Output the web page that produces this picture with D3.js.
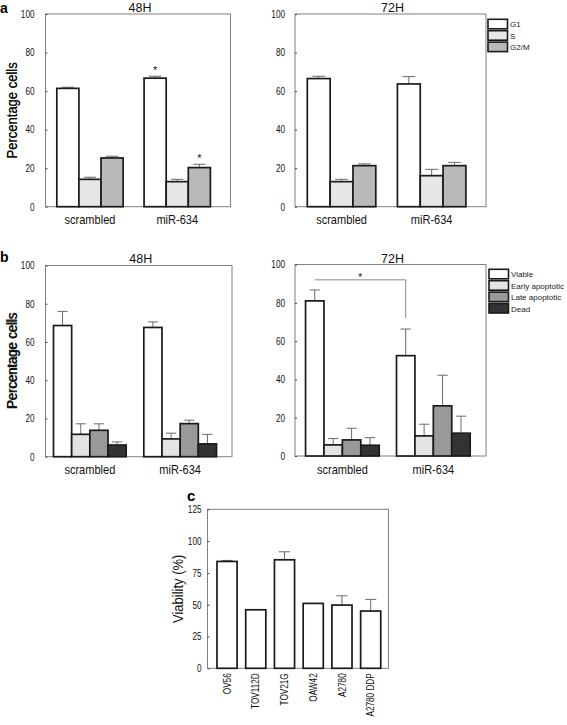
<!DOCTYPE html>
<html><head><meta charset="utf-8">
<script src="https://cdn.jsdelivr.net/npm/d3@7"></script>
<style>
html,body{margin:0;padding:0;background:#fff;}
svg{display:block;font-family:"Liberation Sans",Arial,Helvetica,sans-serif;}
</style></head>
<body>
<svg id="chart" width="567" height="725"></svg>
<script>
// ---------- DATA ----------
const groupCategories = ["scrambled", "miR-634"];
const cycleSeries = ["G1", "S", "G2/M"];
const apoSeries = ["Viable", "Early apoptotic", "Late apoptotic", "Dead"];
const percentTicks = [0, 20, 40, 60, 80, 100];

// rows = categories (scrambled, miR-634), cols = series
const cycle48Values = [[61.4, 14.2, 25.3], [66.7, 13.0, 20.3]];
const cycle48Errors = [[0.6, 1.1, 0.9], [1.0, 1.2, 1.7]];
const cycle48Stars = [[false, false, false], [true, false, true]];
const cycle72Values = [[66.5, 13.0, 21.3], [63.7, 16.1, 21.3]];
const cycle72Errors = [[1.2, 1.2, 0.9], [3.8, 3.3, 1.7]];

const apo48Values = [[68.6, 11.7, 13.8, 6.1], [67.6, 9.3, 17.3, 6.7]];
const apo48Errors = [[7.4, 5.5, 3.4, 1.6], [2.9, 3.0, 1.8, 5.0]];
const apo72Values = [[81.0, 5.8, 8.4, 5.6], [52.4, 10.5, 26.2, 11.9]];
const apo72Errors = [[5.7, 3.3, 6.1, 4.0], [13.9, 6.1, 16.0, 8.9]];
const apo72Bracket = [92, 72]; // bracket level, right drop end

const cellLines = ["OV56", "TOV112D", "TOV21G", "OAW42", "A2780", "A2780 DDP"];
const viabilityValues = [84.0, 46.0, 85.3, 51.0, 49.7, 45.0];
const viabilityErrors = [0.8, 0, 6.3, 0, 7.3, 9.2];
const viabilityTicks = [0, 25, 50, 75, 100, 125];

const cycleColors = ["#ffffff", "#e6e6e6", "#b9b9b9"];
const apoColors = ["#ffffff", "#e3e3e3", "#999999", "#333333"];

// ---------- DRAWING ----------
const svg = d3.select("#chart");
const FRAME = "#808080", BAR_STROKE = "#1a1a1a", ERR = "#6a6a6a";
const NARROW = 0.78;

function frame(g, x0, x1, y0, y1) {
  g.append("rect").attr("x", x0).attr("y", y0).attr("width", x1 - x0).attr("height", y1 - y0)
    .attr("fill", "none").attr("stroke", FRAME).attr("stroke-width", 1);
}

function yAxis(g, y, x0, ticks, pad) {
  const ax = g.append("g").attr("transform", `translate(${x0},0)`)
    .call(d3.axisLeft(y).tickValues(ticks).tickSize(-2).tickPadding(pad));
  ax.select(".domain").remove();
  ax.selectAll(".tick line").attr("stroke", "#444");
  ax.selectAll("text").attr("font-size", 10.5).attr("fill", "#111")
    .attr("x", 0).attr("transform", `translate(${-pad},0) scale(${NARROW},1)`);
}

function yLabel(g, text, x, yc, size, sx) {
  g.append("text").attr("transform", `translate(${x},${yc}) rotate(-90) scale(${sx},1)`)
    .attr("text-anchor", "middle").attr("font-size", size).attr("fill", "#111").text(text);
}

function groupedPanel(o) {
  const g = svg.append("g");
  const [x0, x1] = o.xr, [y0, y1] = o.yr;
  const y = d3.scaleLinear().domain([0, 100]).range([y1, y0]);
  const xg = d3.scaleBand().domain(groupCategories).range([x0, x1])
    .paddingInner(o.pi).paddingOuter(o.po).align(o.align);
  const xs = d3.scaleBand().domain(o.series.map((d, i) => i)).range([0, xg.bandwidth()]);
  frame(g, x0, x1, y0, y1);
  yAxis(g, y, x0, percentTicks, o.tickPad);
  yLabel(g, "Percentage cells", 16.5, (y0 + y1) / 2, 14, 0.93);
  g.append("text").attr("x", (x0 + x1) / 2 + 2).attr("y", o.titleY).attr("text-anchor", "middle")
    .attr("font-size", 12.5).attr("fill", "#111").text(o.title);
  groupCategories.forEach(c => {
    g.append("text").attr("transform", `translate(${xg(c) + xg.bandwidth() / 2},${y1 + 17.5}) scale(0.92,1)`)
      .attr("text-anchor", "middle").attr("font-size", 12).attr("fill", "#111").text(c);
  });
  groupCategories.forEach((c, ci) => {
    o.values[ci].forEach((v, si) => {
      const bx = xg(c) + xs(si), bw = xs.bandwidth(), cx = bx + bw / 2;
      const e = o.errors[ci][si];
      if (e > 0) {
        g.append("line").attr("x1", cx).attr("x2", cx).attr("y1", y(v)).attr("y2", y(v + e))
          .attr("stroke", ERR).attr("stroke-width", 1);
        g.append("line").attr("x1", cx - bw * 0.28).attr("x2", cx + bw * 0.28)
          .attr("y1", y(v + e)).attr("y2", y(v + e)).attr("stroke", ERR).attr("stroke-width", 1);
      }
      g.append("rect").attr("x", bx).attr("y", y(v)).attr("width", bw).attr("height", y(0) - y(v))
        .attr("fill", o.colors[si]).attr("stroke", BAR_STROKE).attr("stroke-width", 1.7);
      if (o.stars && o.stars[ci][si]) {
        g.append("text").attr("x", cx).attr("y", y(v + e) - 2).attr("text-anchor", "middle")
          .attr("font-size", 11).attr("fill", "#111").text("*");
      }
    });
  });
  if (o.legend) {
    o.series.forEach((s, i) => {
      const ly = o.legend.y + i * 11.4;
      g.append("rect").attr("x", o.legend.x).attr("y", ly).attr("width", 19.5).attr("height", 9.5)
        .attr("fill", o.colors[i]).attr("stroke", BAR_STROKE).attr("stroke-width", 1.6);
      g.append("text").attr("x", o.legend.x + 22).attr("y", ly + 8).attr("font-size", 8)
        .attr("fill", "#222").text(s);
    });
  }
  return {g, y, xg, xs};
}

// panel labels
svg.append("text").attr("x", 0).attr("y", 12.5).attr("font-size", 14).attr("font-weight", "bold").text("a");
svg.append("text").attr("x", 0).attr("y", 261.5).attr("font-size", 14).attr("font-weight", "bold").text("b");
svg.append("text").attr("x", 187).attr("y", 500.5).attr("font-size", 15).attr("font-weight", "bold").text("c");

groupedPanel({xr: [45.5, 230.5], yr: [14, 206.7], pi: 0.24, po: 0.18, align: 0.36, tickPad: 11,
  series: cycleSeries, colors: cycleColors, values: cycle48Values, errors: cycle48Errors,
  stars: cycle48Stars, title: "48H", titleY: 11.5});
groupedPanel({xr: [295, 486], yr: [14, 206.7], pi: 0.24, po: 0.18, align: 0.38, tickPad: 10,
  series: cycleSeries, colors: cycleColors, values: cycle72Values, errors: cycle72Errors,
  title: "72H", titleY: 11.5, legend: {x: 488, y: 19.3}});
groupedPanel({xr: [45.5, 232], yr: [265.5, 456.7], pi: 0.195, po: 0.13, align: 0.34, tickPad: 11,
  series: apoSeries, colors: apoColors, values: apo48Values, errors: apo48Errors,
  title: "48H", titleY: 262.5});
const b72 = groupedPanel({xr: [295, 486], yr: [264.5, 456], pi: 0.19, po: 0.145, align: 0.4, tickPad: 10,
  series: apoSeries, colors: apoColors, values: apo72Values, errors: apo72Errors,
  title: "72H", titleY: 262.5, legend: {x: 489, y: 269.3}});

// significance bracket on 72H apoptosis panel
{
  const {g, y, xg, xs} = b72;
  const xa = xg(groupCategories[0]) + xs(0) + xs.bandwidth() / 2;
  const xb = xg(groupCategories[1]) + xs(0) + xs.bandwidth() / 2;
  g.append("path").attr("d", `M${xa},${y(apo72Bracket[0])}H${xb}V${y(apo72Bracket[1])}`)
    .attr("fill", "none").attr("stroke", "#8a8a8a").attr("stroke-width", 1);
  g.append("text").attr("x", (xa + xb) / 2).attr("y", y(apo72Bracket[0]) + 1)
    .attr("text-anchor", "middle").attr("font-size", 10).attr("fill", "#111").text("*");
}

// panel c
{
  const g = svg.append("g");
  const x0 = 207.5, x1 = 388.5, y0 = 509.3, y1 = 668.3;
  const y = d3.scaleLinear().domain([0, 125]).range([y1, y0]);
  const x = d3.scaleBand().domain(cellLines).range([x0, x1]).paddingInner(0.3).paddingOuter(0.3).align(0.55);
  frame(g, x0, x1, y0, y1);
  yAxis(g, y, x0, viabilityTicks, 6);
  yLabel(g, "Viability (%)", 182.5, (y0 + y1) / 2, 14, 0.93);
  cellLines.forEach((c, i) => {
    const v = viabilityValues[i], e = viabilityErrors[i];
    const bx = x(c), bw = x.bandwidth(), cx = bx + bw / 2;
    if (e > 0) {
      g.append("line").attr("x1", cx).attr("x2", cx).attr("y1", y(v)).attr("y2", y(v + e))
        .attr("stroke", ERR).attr("stroke-width", 1);
      g.append("line").attr("x1", cx - bw * 0.28).attr("x2", cx + bw * 0.28)
        .attr("y1", y(v + e)).attr("y2", y(v + e)).attr("stroke", ERR).attr("stroke-width", 1);
    }
    g.append("rect").attr("x", bx).attr("y", y(v)).attr("width", bw).attr("height", y(0) - y(v))
      .attr("fill", "#fff").attr("stroke", BAR_STROKE).attr("stroke-width", 1.7);
    g.append("text").attr("transform", `translate(${cx},${y1 + 5}) rotate(-90) scale(${NARROW},1)`)
      .attr("text-anchor", "end").attr("dy", "0.35em").attr("font-size", 10.5).attr("fill", "#111")
      .text(c);
  });
}
</script>
</body></html>
